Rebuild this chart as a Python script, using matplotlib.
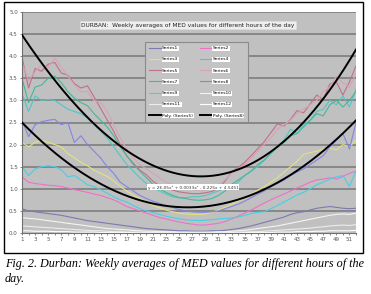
import numpy as np
import matplotlib.pyplot as plt
from matplotlib.patches import Rectangle

weeks = np.arange(1, 53)

s1 = [0.55, 0.50, 0.48, 0.46, 0.44, 0.42, 0.40, 0.37, 0.34, 0.31, 0.28, 0.26, 0.24, 0.22, 0.20, 0.18,
      0.16, 0.14, 0.12, 0.10, 0.09, 0.08, 0.07, 0.06, 0.05, 0.05, 0.04, 0.04, 0.04, 0.05, 0.05, 0.06,
      0.08, 0.10, 0.13, 0.16, 0.20, 0.24, 0.28, 0.32, 0.36, 0.42, 0.46, 0.48, 0.52, 0.56, 0.58, 0.60,
      0.58, 0.56, 0.55, 0.56]
s2 = [1.27, 1.15, 1.12, 1.10, 1.08, 1.07, 1.05, 1.02, 0.98, 0.95, 0.92, 0.88, 0.85, 0.80, 0.75, 0.68,
      0.60, 0.55, 0.50, 0.45, 0.40, 0.35, 0.32, 0.28, 0.25, 0.22, 0.20, 0.18, 0.18, 0.20, 0.22, 0.26,
      0.32, 0.38, 0.45, 0.52, 0.60, 0.68, 0.75, 0.82, 0.88, 0.95, 1.02, 1.08, 1.15, 1.20, 1.22, 1.25,
      1.22, 1.28, 1.35, 1.40]
s3 = [2.05, 1.95, 2.05, 2.10, 2.05, 2.00, 1.95, 1.80, 1.70, 1.60, 1.52, 1.42, 1.35, 1.28, 1.18, 1.05,
      0.95, 0.85, 0.78, 0.70, 0.62, 0.57, 0.52, 0.48, 0.45, 0.43, 0.42, 0.42, 0.43, 0.47, 0.52, 0.58,
      0.65, 0.72, 0.80, 0.88, 0.97, 1.05, 1.15, 1.25, 1.38, 1.50, 1.62, 1.78, 1.82, 1.85, 1.90, 1.92,
      1.88, 2.00, 1.95, 2.10]
s4 = [3.15, 2.75, 3.10, 3.00, 3.02, 3.00, 2.90, 2.80, 2.75, 2.70, 2.60, 2.45, 2.30, 2.15, 1.95, 1.75,
      1.55, 1.40, 1.25, 1.12, 1.02, 0.95, 0.88, 0.82, 0.80, 0.80, 0.82, 0.82, 0.85, 0.90, 0.95, 1.02,
      1.05, 1.15, 1.30, 1.40, 1.50, 1.65, 1.80, 1.95, 2.10, 2.35, 2.25, 2.45, 2.55, 2.75, 2.80, 3.00,
      2.90, 3.10, 2.85, 3.25]
s5 = [3.98, 3.28, 3.72, 3.66, 3.82, 3.86, 3.62, 3.57, 3.38, 3.28, 3.33, 3.08, 2.82, 2.56, 2.30, 2.00,
      1.74, 1.58, 1.42, 1.32, 1.17, 1.07, 1.02, 0.97, 0.93, 0.91, 0.89, 0.89, 0.91, 0.94, 1.01, 1.17,
      1.38, 1.48, 1.60, 1.75, 1.91, 2.07, 2.27, 2.47, 2.42, 2.57, 2.77, 2.72, 2.92, 3.12, 3.02, 3.37,
      3.42, 3.12, 3.42, 3.78]
s6 = [3.85, 3.45, 3.65, 3.80, 3.75, 3.95, 3.75, 3.55, 3.35, 3.20, 3.20, 3.00, 2.95, 2.75, 2.45, 2.15,
      1.90, 1.70, 1.55, 1.45, 1.35, 1.25, 1.15, 1.10, 1.05, 1.00, 0.98, 0.97, 0.98, 1.02, 1.10, 1.20,
      1.35, 1.45, 1.55, 1.70, 1.85, 2.00, 2.15, 2.35, 2.45, 2.55, 2.70, 2.80, 2.90, 3.00, 3.20, 3.30,
      3.55, 3.40, 3.30, 3.60]
s7 = [3.50, 2.95, 3.30, 3.35, 3.50, 3.55, 3.40, 3.20, 3.05, 2.95, 2.88, 2.70, 2.55, 2.40, 2.20, 1.95,
      1.75, 1.55, 1.40, 1.25, 1.10, 1.00, 0.92, 0.85, 0.80, 0.78, 0.75, 0.74, 0.75, 0.78, 0.85, 0.95,
      1.10, 1.20, 1.30, 1.40, 1.55, 1.65, 1.80, 1.95, 2.05, 2.20, 2.25, 2.40, 2.55, 2.70, 2.65, 2.90,
      3.00, 2.85, 3.00, 3.20]
s8 = [2.55, 2.18, 2.45, 2.52, 2.55, 2.57, 2.45, 2.50, 2.05, 2.20, 2.00, 1.85, 1.70, 1.50, 1.35, 1.15,
      1.05, 0.95, 0.85, 0.78, 0.72, 0.67, 0.62, 0.58, 0.53, 0.50, 0.48, 0.47, 0.47, 0.48, 0.50, 0.55,
      0.60, 0.65, 0.72, 0.80, 0.88, 0.95, 1.05, 1.12, 1.20, 1.30, 1.38, 1.45, 1.55, 1.65, 1.75, 1.95,
      2.10, 2.25, 1.90, 2.50]
s9 = [1.50, 1.30, 1.45, 1.50, 1.52, 1.50, 1.43, 1.27, 1.30, 1.20, 1.09, 1.05, 0.98, 0.90, 0.82, 0.75,
      0.70, 0.62, 0.55, 0.50, 0.46, 0.42, 0.38, 0.35, 0.32, 0.30, 0.29, 0.28, 0.29, 0.30, 0.32, 0.33,
      0.34, 0.36, 0.40, 0.44, 0.47, 0.48, 0.55, 0.62, 0.70, 0.78, 0.86, 0.92, 1.00, 1.09, 1.15, 1.22,
      1.27, 1.30, 1.05, 1.40]
s10 = [0.35, 0.33, 0.32, 0.30, 0.28, 0.26, 0.24, 0.22, 0.20, 0.18, 0.16, 0.14, 0.12, 0.10, 0.09, 0.08,
       0.07, 0.06, 0.05, 0.04, 0.04, 0.03, 0.03, 0.03, 0.02, 0.02, 0.02, 0.02, 0.02, 0.02, 0.03, 0.03,
       0.04, 0.05, 0.06, 0.08, 0.10, 0.12, 0.14, 0.16, 0.19, 0.22, 0.25, 0.28, 0.31, 0.34, 0.37, 0.40,
       0.42, 0.43, 0.42, 0.45]
s11 = [0.16, 0.15, 0.14, 0.13, 0.12, 0.11, 0.10, 0.09, 0.08, 0.07, 0.06, 0.05, 0.05, 0.04, 0.03, 0.03,
       0.02, 0.02, 0.02, 0.01, 0.01, 0.01, 0.01, 0.01, 0.01, 0.01, 0.01, 0.01, 0.01, 0.01, 0.01, 0.01,
       0.01, 0.02, 0.02, 0.03, 0.03, 0.04, 0.05, 0.06, 0.07, 0.08, 0.09, 0.10, 0.11, 0.13, 0.14, 0.16,
       0.17, 0.18, 0.17, 0.19]
s12 = [0.05, 0.05, 0.04, 0.04, 0.04, 0.03, 0.03, 0.03, 0.02, 0.02, 0.02, 0.02, 0.01, 0.01, 0.01, 0.01,
       0.01, 0.01, 0.00, 0.00, 0.00, 0.00, 0.00, 0.00, 0.00, 0.00, 0.00, 0.00, 0.00, 0.00, 0.00, 0.00,
       0.00, 0.00, 0.01, 0.01, 0.01, 0.01, 0.01, 0.02, 0.02, 0.02, 0.03, 0.03, 0.03, 0.04, 0.04, 0.05,
       0.05, 0.05, 0.05, 0.06]

series = [s1, s2, s3, s4, s5, s6, s7, s8, s9, s10, s11, s12]
names = ['Series%d' % (i + 1) for i in range(12)]
colors = ['#7a7ab4', '#f070c8', '#e2e27e', '#50c6c8', '#c07088', '#d8a2b6',
          '#44b89a', '#8484e4', '#44d0e6', '#f4f4f4', '#ececec', '#ffffff']

# trendlines: Series5 as a 3rd order fit, Series8 from coefficients
poly_s5 = np.polyfit(weeks, s5, 3)
poly_s8 = [0.0, 0.00299, -0.1575, 2.6545]

title = 'DURBAN:  Weekly averages of MED values for different hours of the day'
eq_label = 'y = 2E-05x\u00b3 + 0.0033x\u00b2 - 0.225x + 4.5451'
caption1 = 'Fig. 2. Durban: Weekly averages of MED values for different hours of the'
caption2 = 'day.'

fig = plt.figure(figsize=(3.71, 2.94), dpi=100)
fig.patches.append(Rectangle((4 / 371, 1 - 253 / 294), 359 / 371, 251 / 294,
                             transform=fig.transFigure, fill=False,
                             edgecolor='black', linewidth=1.0))

ax = fig.add_axes([22 / 371, 61 / 294, 334 / 371, 221 / 294])
ax.set_facecolor('#c0c0c0')
ax.set_xlim(1, 52)
ax.set_ylim(0, 5)

for y in np.arange(0.5, 5.01, 0.5):
    ax.axhline(y, color='#878787', lw=1.4, zorder=1)

lines = []
for vals, name, c in zip(series, names, colors):
    ln, = ax.plot(weeks, vals, color=c, lw=0.8, zorder=2, label=name)
    lines.append(ln)

xs = np.linspace(1, 52, 200)
trends = []
for coef in [poly_s5, poly_s8]:
    tr, = ax.plot(xs, np.polyval(coef, xs), color='black', lw=1.4, zorder=3)
    trends.append(tr)

ax.set_xticks(weeks)
ax.set_xticklabels([str(w) if w % 2 == 1 else '' for w in weeks])
ax.set_yticks(np.arange(0, 5.01, 0.5))
ax.set_yticklabels(['%.1f' % v for v in np.arange(0, 5.01, 0.5)])
ax.tick_params(labelsize=4.0, length=1.5, width=0.5, pad=1.5, colors='#555555')
for s in ['top', 'right']:
    ax.spines[s].set_visible(False)
for s in ['left', 'bottom']:
    ax.spines[s].set_color('#707070')
    ax.spines[s].set_linewidth(0.8)

# legend: rows are (1,2), (3,4) ... so feed columns
order = [0, 2, 4, 6, 8, 10]
handles = [lines[i] for i in order] + [trends[0]] + [lines[i + 1] for i in order] + [trends[1]]
labels = [names[i] for i in order] + ['Poly. (Series5)'] + [names[i + 1] for i in order] + ['Poly. (Series8)']
leg = ax.legend(handles, labels, ncol=2, loc='upper left',
                bbox_to_anchor=(0.368, 0.866, 0.309, 0.0), mode='expand',
                fontsize=3.2, frameon=True, fancybox=False, facecolor='#c4c4c4',
                edgecolor='#8a8a8a', framealpha=1, handlelength=2.6,
                handletextpad=0.3, labelspacing=1.6, borderpad=1.0,
                columnspacing=1.0, borderaxespad=0)
leg.get_frame().set_linewidth(0.8)
for t in leg.get_texts():
    t.set_bbox(dict(facecolor='white', edgecolor='none', pad=0.4))

ax.text(0.497, 0.941, title, transform=ax.transAxes, ha='center', va='center',
        fontsize=4.2, color='#222222', zorder=5,
        bbox=dict(facecolor='#eeeeee', edgecolor='#dddddd', pad=1.2, lw=0.5))
ax.text(0.512, 0.207, eq_label, transform=ax.transAxes, ha='center', va='center',
        fontsize=3.1, color='#333333', zorder=5,
        bbox=dict(facecolor='white', edgecolor='none', pad=0.6))

fig.text(5 / 371, 1 - 264 / 294, caption1, fontsize=8.7, style='italic',
         family='Liberation Serif', va='center', ha='left')
fig.text(5 / 371, 1 - 279 / 294, caption2, fontsize=8.7, style='italic',
         family='Liberation Serif', va='center', ha='left')

fig.savefig('out.png', dpi=100)
